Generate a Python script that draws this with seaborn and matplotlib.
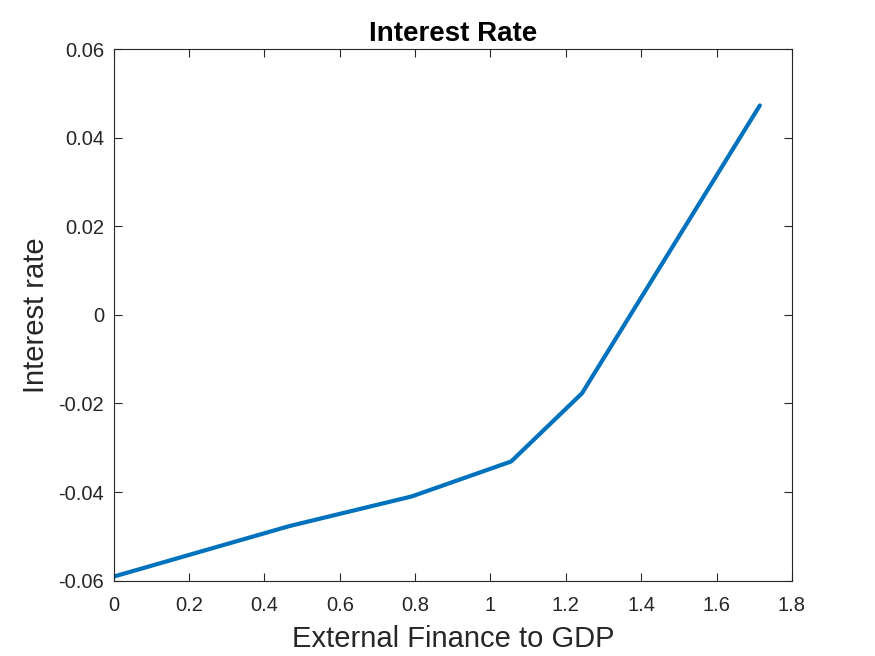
import matplotlib
matplotlib.use("Agg")
import matplotlib.pyplot as plt
import seaborn as sns
import pandas as pd

# values
ext_finance = [0.0, 0.466, 0.791, 1.055, 1.243, 1.715]
interest = [-0.0591, -0.0477, -0.0410, -0.0331, -0.0177, 0.0473]

X_TICKS = [0, 0.2, 0.4, 0.6, 0.8, 1, 1.2, 1.4, 1.6, 1.8]
Y_TICKS = [-0.06, -0.04, -0.02, 0, 0.02, 0.04, 0.06]

df = pd.DataFrame({"x": ext_finance, "y": interest})

sns.set_theme(style="white")
plt.rcParams["font.family"] = ["Liberation Sans", "DejaVu Sans"]
DARK = "#262626"

fig = plt.figure(figsize=(8.75, 6.56), dpi=100)
ax = fig.add_axes([0.13, 0.115, 0.775, 0.81])

sns.lineplot(data=df, x="x", y="y", ax=ax, color="#0072BD", linewidth=3, sort=False)

ax.set_xlim(0, 1.8)
ax.set_ylim(-0.06, 0.06)
ax.set_xticks(X_TICKS)
ax.set_xticklabels([f"{t:g}" for t in X_TICKS])
ax.set_yticks(Y_TICKS)
ax.set_yticklabels([f"{t:g}" for t in Y_TICKS])
ax.tick_params(direction="in", length=6, width=0.8, colors=DARK, labelsize=14.5,
               top=True, right=True, bottom=True, left=True)
ax.tick_params(axis="x", pad=11)
ax.tick_params(axis="y", pad=7)
for s in ax.spines.values():
    s.set_color(DARK)
    s.set_linewidth(0.8)
    s.set_visible(True)

ax.set_xlabel("External Finance to GDP", fontsize=21, color=DARK, labelpad=7)
ax.set_ylabel("Interest rate", fontsize=21, color=DARK, labelpad=6)
ax.set_title("Interest Rate", fontsize=20, fontweight="bold", color="black", pad=6)

fig.savefig("out.png", dpi=100)
